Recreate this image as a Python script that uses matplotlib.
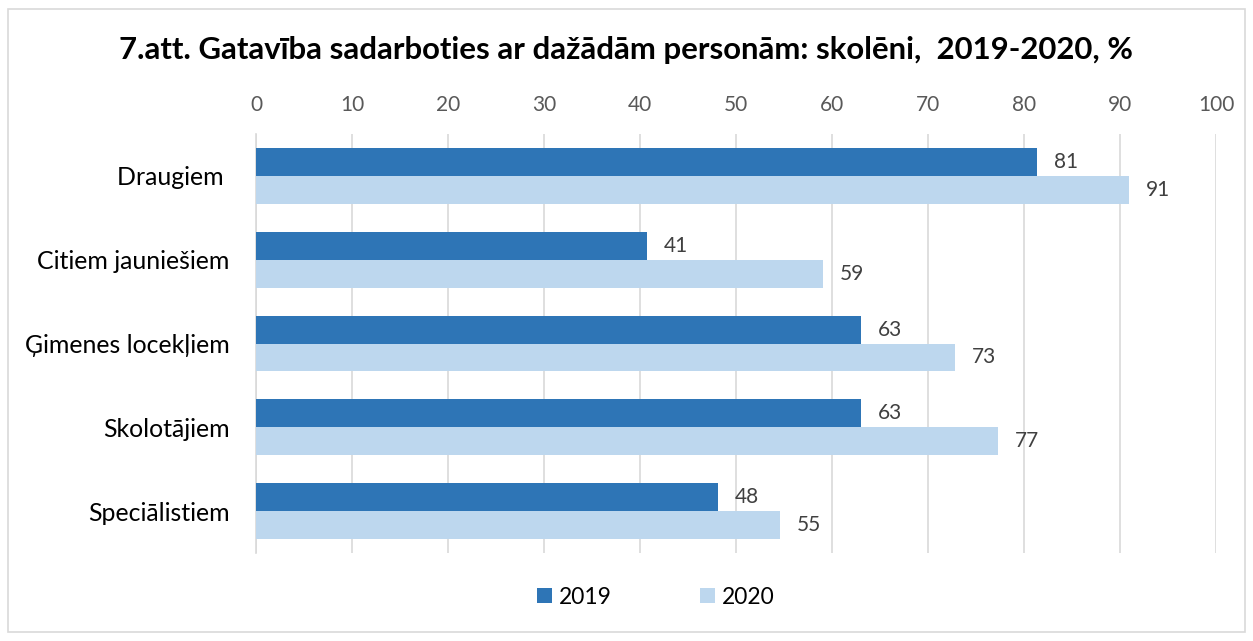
import matplotlib.pyplot as plt
import numpy as np
from matplotlib.patches import Rectangle

plt.rcParams["font.family"] = ["Lato", "DejaVu Sans"]

# data
categories = ["Draugiem ", "Citiem jauniešiem", "Ģimenes locekļiem", "Skolotājiem", "Speciālistiem"]
vals_2019 = [81.4, 40.7, 63.0, 63.0, 48.1]
vals_2020 = [90.9, 59.1, 72.8, 77.3, 54.6]
series_names = ["2019", "2020"]
xticks = list(range(0, 101, 10))

c2019 = "#2E75B6"
c2020 = "#BDD7EE"

W, H = 1253, 641
fig = plt.figure(figsize=(W / 100, H / 100), dpi=100)
ax = fig.add_axes([256 / W, 1 - 553 / H, 960 / W, 419 / H])

# outer frame
fig.patches.append(Rectangle((8 / W, 1 - 632 / H), 1237 / W, 623 / H, transform=fig.transFigure,
                             fill=False, edgecolor="#D9D9D9", linewidth=1.2))

y = np.arange(len(categories))
h = 0.333
ax.barh(y - h / 2, vals_2019, height=h, color=c2019, label=series_names[0], zorder=3)
ax.barh(y + h / 2, vals_2020, height=h, color=c2020, label=series_names[1], zorder=3)

for yi, v in zip(y, vals_2019):
    ax.text(v + 1.75, yi - h / 2, f"{v:.0f}", va="center", ha="left", fontsize=15, color="#404040")
for yi, v in zip(y, vals_2020):
    ax.text(v + 1.75, yi + h / 2, f"{v:.0f}", va="center", ha="left", fontsize=15, color="#404040")

ax.set_xlim(0, 100)
ax.set_ylim(len(categories) - 0.5, -0.5)
ax.set_xticks(xticks)
ax.xaxis.tick_top()
ax.tick_params(axis="x", length=0, pad=14, labelsize=15, labelcolor="#595959")
ax.set_yticks(y)
ax.set_yticklabels(categories)
ax.tick_params(axis="y", length=0, pad=19, labelsize=17.9, labelcolor="#000000")
ax.grid(axis="x", color="#D9D9D9", linewidth=1.2, zorder=0)
for s in ["top", "right", "bottom"]:
    ax.spines[s].set_visible(False)
ax.spines["left"].set_color("#D9D9D9")
ax.spines["left"].set_linewidth(1.2)

fig.text(626 / W, 1 - 50 / H, "7.att. Gatavība sadarboties ar dažādām personām: skolēni,  2019-2020, %",
         ha="center", va="center", fontsize=22.4, fontweight="bold")

fig.legend(loc="center", bbox_to_anchor=(656 / W, 1 - 597 / H), ncol=2, frameon=False,
           fontsize=16.4, handlelength=0.66, handleheight=0.66, handletextpad=0.3, columnspacing=3.86)

fig.savefig("out.png", dpi=100)
